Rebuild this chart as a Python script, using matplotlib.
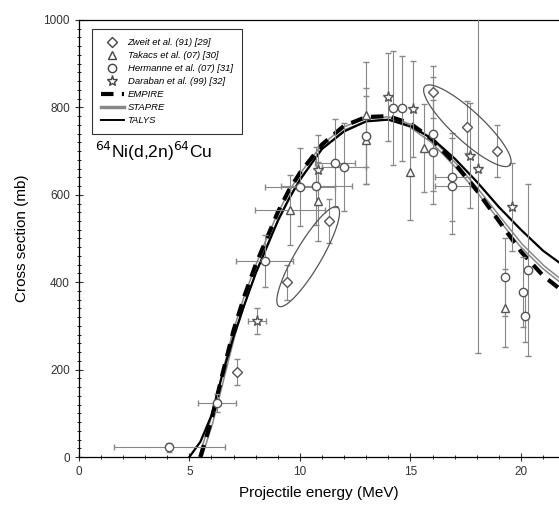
import numpy as np
import matplotlib
matplotlib.use('Agg')
import matplotlib.pyplot as plt
from matplotlib.ticker import MultipleLocator

plt.rcParams['font.family'] = ['Liberation Sans', 'DejaVu Sans']

# experimental data (energy MeV, cross section mb)
zweit_E = [7.15, 9.4, 11.3, 16.0, 17.55, 18.9]
zweit_s = [195, 400, 540, 835, 755, 700]
zweit_ds = [30, 40, 50, 60, 60, 60]

takacs_E = [9.55, 10.8, 13.0, 13.0, 15.0, 15.6, 19.3]
takacs_s = [565, 585, 783, 725, 652, 707, 341]
takacs_ds = [80, 90, 120, 100, 110, 100, 90]
takacs_dE = [1.6, 0, 0, 0, 0, 0, 0]

herm_E = [4.1, 6.25, 8.4, 10.0, 10.75, 11.6, 12.0, 13.0, 14.2, 14.6, 16.0, 16.0,
          16.9, 16.9, 19.3, 20.1, 20.3, 20.2]
herm_s = [22, 124, 449, 618, 620, 673, 664, 735, 798, 798, 739, 698,
          641, 620, 412, 378, 428, 323]
herm_ds = [10, 20, 60, 90, 90, 100, 100, 110, 130, 120, 130, 120,
           100, 110, 90, 80, 197, 60]
herm_dE = [2.5, 0.85, 1.3, 1.6, 1.6, 0.9, 1.0, 0, 0, 0, 0, 0,
           0.8, 0.8, 0, 0, 0, 0]

dar_E = [8.05, 10.8, 14.0, 15.1, 17.7, 18.05, 19.6]
dar_s = [311, 657, 824, 796, 689, 659, 572]
dar_ds = [30, 80, 100, 110, 120, 420, 100]
dar_dE = [0.4, 0, 0, 0, 0, 0, 0]

# model calculations
talys_E = [5.0, 5.5, 6.0, 6.5, 7.0, 7.5, 8.0, 8.5, 9.0, 9.5, 10, 11, 12, 13, 14,
           15, 16, 17, 18, 19, 20, 21, 22]
talys_s = [0, 35, 95, 190, 275, 350, 420, 480, 540, 590, 634, 705, 745, 768, 772,
           757, 728, 683, 630, 572, 520, 472, 435]
empire_E = [5.5, 6.0, 6.5, 7.0, 7.5, 8.0, 8.5, 9.0, 9.5, 10, 11, 12, 13, 14, 15,
            16, 17, 18, 19, 20, 21, 22]
empire_s = [0, 85, 190, 290, 370, 440, 500, 560, 610, 650, 715, 758, 778, 780, 763,
            726, 672, 610, 540, 470, 415, 375]
stapre_E = [5.5, 6.0, 6.5, 7.0, 7.5, 8.0, 8.5, 9.0, 9.5, 10, 11, 12, 13, 14, 15,
            16, 17, 18, 19, 20, 21, 22]
stapre_s = [0, 80, 180, 280, 360, 430, 492, 550, 600, 642, 710, 752, 772, 775, 758,
            722, 670, 612, 548, 485, 435, 395]

fig = plt.figure(figsize=(5.59, 5.15), dpi=100)
ax = fig.add_axes([0.141, 0.1126, 0.859, 0.8486])
ax.set_xlim(0, 21.72)
ax.set_ylim(0, 1000)

ax.plot(stapre_E, stapre_s, color='#888888', lw=3.2, zorder=3)
ax.plot(stapre_E, stapre_s, color='white', lw=1.0, zorder=3)
ax.plot(empire_E, empire_s, color='black', lw=3.0, dashes=(3, 2), zorder=4)
ax.plot(talys_E, talys_s, color='black', lw=1.6, zorder=4)

ekw = dict(ls='none', mfc='white', mec='#555555', ecolor='#888888', elinewidth=0.8,
           capsize=2, capthick=0.8, mew=1.0, zorder=5)
ax.errorbar(zweit_E, zweit_s, yerr=zweit_ds, marker='D', ms=5, **ekw)
ax.errorbar(takacs_E, takacs_s, yerr=takacs_ds, xerr=takacs_dE, marker='^', ms=6, **ekw)
ax.errorbar(herm_E, herm_s, yerr=herm_ds, xerr=herm_dE, marker='o', ms=6, **ekw)
ax.errorbar(dar_E, dar_s, yerr=dar_ds, xerr=dar_dE, marker='*', ms=8, **ekw)


def draw_ellipse(p0, p1, half_w):
    t = ax.transData
    a, b = t.transform(p0), t.transform(p1)
    c = (a + b) / 2
    d = (b - a) / 2
    u = d / np.linalg.norm(d)
    n = np.array([-u[1], u[0]])
    th = np.linspace(0, 2 * np.pi, 200)
    pts = c + np.outer(np.cos(th), d) + np.outer(np.sin(th), n * half_w)
    dd = t.inverted().transform(pts)
    ax.plot(dd[:, 0], dd[:, 1], color='#555555', lw=0.9, zorder=6)


draw_ellipse((9.05, 345), (11.7, 572), 13)
draw_ellipse((15.65, 848), (19.5, 668), 15)

# legend handles
h = []
h.append(ax.plot([], [], 'D', ms=5, mfc='white', mec='#444444', label='Zweit et al. (91) [29]')[0])
h.append(ax.plot([], [], '^', ms=6, mfc='white', mec='#444444', label='Takacs et al. (07) [30]')[0])
h.append(ax.plot([], [], 'o', ms=6, mfc='white', mec='#444444', label='Hermanne et al. (07) [31]')[0])
h.append(ax.plot([], [], '*', ms=8, mfc='white', mec='#444444', label='Daraban et al. (99) [32]')[0])
h.append(ax.plot([], [], color='black', lw=3.0, dashes=(3, 2), label='EMPIRE')[0])
h.append(ax.plot([], [], color='#888888', lw=2.5, label='STAPRE')[0])
h.append(ax.plot([], [], color='black', lw=1.4, label='TALYS')[0])
leg = ax.legend(handles=h, loc='upper left', bbox_to_anchor=(0.017, 0.991),
                prop={'style': 'italic', 'size': 6.8}, frameon=True,
                fancybox=False, edgecolor='black', handlelength=2.4,
                labelspacing=0.42, borderpad=1.0, handletextpad=0.4)
leg.get_frame().set_linewidth(0.8)

ax.text(0.72, 684, r'$^{64}$Ni(d,2n)$^{64}$Cu', fontsize=12.5)

ax.xaxis.set_major_locator(MultipleLocator(5))
ax.xaxis.set_minor_locator(MultipleLocator(1))
ax.yaxis.set_major_locator(MultipleLocator(200))
ax.yaxis.set_minor_locator(MultipleLocator(20))
ax.tick_params(which='major', direction='inout', length=6, width=0.8, labelsize=8.5, colors='#333333')
ax.tick_params(which='minor', direction='inout', length=3, width=0.6)
ax.spines['right'].set_visible(False)
for s in ['left', 'bottom', 'top']:
    ax.spines[s].set_linewidth(0.9)

ax.set_xlabel('Projectile energy (MeV)', fontsize=11, labelpad=6)
ax.set_ylabel('Cross section (mb)', fontsize=11, labelpad=10)

fig.savefig('out.png', dpi=100)
